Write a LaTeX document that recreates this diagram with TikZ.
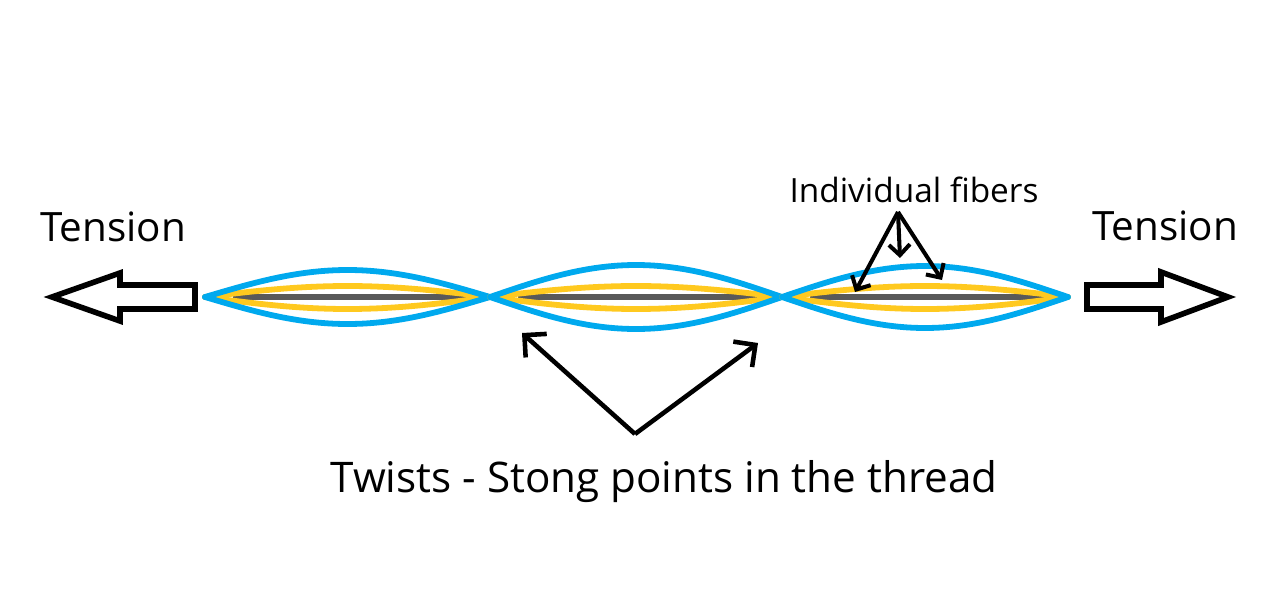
\documentclass[tikz,border=0pt]{standalone}
\usepackage{fontspec}
\setmainfont{Open Sans}
\usetikzlibrary{arrows.meta}

\definecolor{strandblue}{HTML}{00A9EE}
\definecolor{fibergold}{HTML}{FFC91F}
\definecolor{coregrey}{HTML}{595959}

\tikzset{
    strand/.style={strandblue, line width=3.3pt, line cap=round},
    fiber/.style={fibergold, line width=3.3pt, line cap=round},
    core/.style={coregrey, line width=3.3pt},
    bigarrow/.style={line width=3.2pt, line join=miter, fill=white},
    pointer/.style={line width=2.6pt, -{Straight Barb[length=9pt, width=18pt, line width=2.6pt]}},
    smallpointer/.style={line width=2.3pt, -{Straight Barb[length=6pt, width=12pt, line width=2.3pt]}}
}

\begin{document}
\begin{tikzpicture}[x=0.02cm, y=-0.02cm]
        \useasboundingbox (0,0) rectangle (1284,588);
        % the thread, one lens per segment
        \foreach \a/\b/\amp in {205/490/27, 490/782/32, 782/1068/31} {
            \draw[core] (\a+28,297) -- (\b-22,297);
            \draw[fiber] plot[domain=0:1, samples=40, smooth] ({\a+(\b-\a)*\x}, {297-11*sin(180*\x)});
            \draw[fiber] plot[domain=0:1, samples=40, smooth] ({\a+(\b-\a)*\x}, {297+12*sin(180*\x)});
            \draw[strand] plot[domain=0:1, samples=40, smooth] ({\a+(\b-\a)*\x}, {297-\amp*sin(180*\x)});
            \draw[strand] plot[domain=0:1, samples=40, smooth] ({\a+(\b-\a)*\x}, {297+\amp*sin(180*\x)});
        }
        % tension arrows
        \draw[bigarrow] (195,285) -- (120,285) -- (120,273) -- (52,297) -- (120,321) -- (120,309) -- (195,309) -- cycle;
        \draw[bigarrow] (1087,285) -- (1161,285) -- (1161,272) -- (1228,297) -- (1161,322) -- (1161,309) -- (1087,309) -- cycle;
        \node (tensionL) at (113,227) {\fontsize{23pt}{28pt}\selectfont Tension};
        \node (tensionR) at (1165,226) {\fontsize{23pt}{28pt}\selectfont Tension};
        % labels
        \node (fibers) at (914,190) {\fontsize{19pt}{22pt}\selectfont Individual fibers};
        \node (twists) at (664,482) {\fontsize{24pt}{28pt}\selectfont Twists - Stong points in the thread};
        \coordinate (fibtop) at (898,212);
        \coordinate (fibA) at (855,292);
        \coordinate (fibB) at (900,258);
        \coordinate (fibC) at (942,280);
        \draw[smallpointer] (fibtop) -- (fibA);
        \draw[smallpointer] (fibtop) -- (fibB);
        \draw[smallpointer] (fibtop) -- (fibC);
        \coordinate (vertex) at (635,434);
        \coordinate (twistA) at (522,333);
        \coordinate (twistB) at (758,343);
        \draw[pointer] (vertex) -- (twistA);
        \draw[pointer] (vertex) -- (twistB);
\end{tikzpicture}
\end{document}
